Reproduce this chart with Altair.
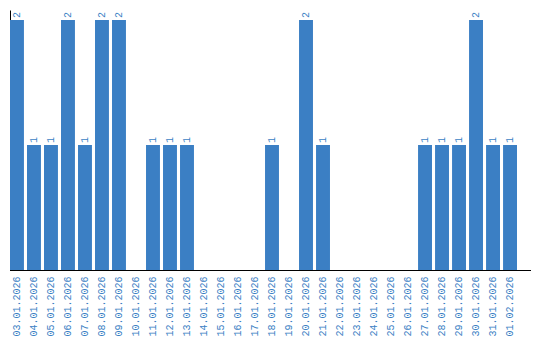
import altair as alt
import pandas as pd

dates = ["03.01.2026", "04.01.2026", "05.01.2026", "06.01.2026", "07.01.2026",
         "08.01.2026", "09.01.2026", "10.01.2026", "11.01.2026", "12.01.2026",
         "13.01.2026", "14.01.2026", "15.01.2026", "16.01.2026", "17.01.2026",
         "18.01.2026", "19.01.2026", "20.01.2026", "21.01.2026", "22.01.2026",
         "23.01.2026", "24.01.2026", "25.01.2026", "26.01.2026", "27.01.2026",
         "28.01.2026", "29.01.2026", "30.01.2026", "31.01.2026", "01.02.2026"]
counts = [2, 1, 1, 2, 1, 2, 2, 0, 1, 1,
          1, 0, 0, 0, 0, 1, 0, 2, 1, 0,
          0, 0, 0, 0, 1, 1, 1, 2, 1, 1]

df = pd.DataFrame({"date": dates, "count": counts})

BLUE = "#3b7fc4"
FONT = "Liberation Mono"

x = alt.X("date:N", sort=dates,
          scale=alt.Scale(paddingInner=0.18, paddingOuter=0, range=[0, 507]),
          axis=alt.Axis(title=None, labelAngle=-90, labelColor=BLUE, labelFont=FONT,
                        labelFontSize=10, ticks=False, tickSize=0, labelPadding=6,
                        domain=False, labelOverlap=False))
y = alt.Y("count:Q", scale=alt.Scale(domain=[0, 2.08], nice=False),
          axis=alt.Axis(title=None, labels=False, ticks=False, grid=False,
                        domainColor="black", domainWidth=1))

bars = alt.Chart(df).mark_bar(color=BLUE).encode(x=x, y=y)

text = alt.Chart(df).transform_filter("datum.count > 0").mark_text(
    angle=270, align="left", baseline="middle", dx=2, font=FONT, fontSize=10, color=BLUE
).encode(x=x, y=y, text="count:Q")

xline = alt.Chart(df).mark_rule(color="black", strokeWidth=1).encode(
    x=alt.value(0), x2=alt.value(521), y=alt.value(260.5))

chart = alt.layer(bars, text, xline).properties(
    width=521, height=260,
    padding={"left": 10, "top": 10, "right": 9, "bottom": 70},
    autosize=alt.AutoSizeParams(type="none"),
).configure_view(stroke=None)

chart.save("out.html", embed_options={"renderer": "svg", "actions": False})
